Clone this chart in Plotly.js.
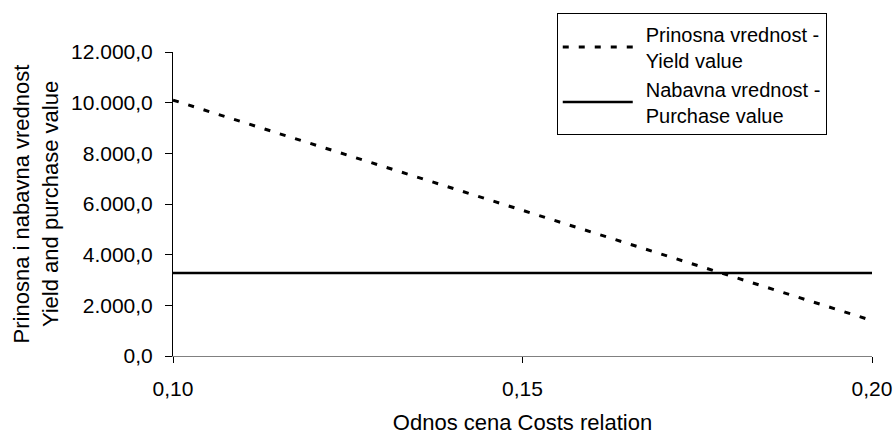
<!DOCTYPE html>
<html>
<head>
<meta charset="utf-8">
<script src="https://cdn.plot.ly/plotly-3.0.1.min.js"></script>
<style>html,body{margin:0;padding:0;background:#fff;}#chart{width:896px;height:435px;}</style>
</head>
<body>
<div id="chart"></div>
<script>
// Data
const costsRelation = [0.10, 0.15, 0.20];
const yieldValue = [10100, 5750, 1400];
const purchaseX = [0.10, 0.20];
const purchaseValue = [3280, 3280];
const seriesNames = ["Prinosna vrednost -<br>Yield value", "Nabavna vrednost -<br>Purchase value"];
const xTitle = "Odnos cena Costs relation";
const yTitle = "Prinosna i nabavna vrednost<br>Yield and purchase value";

const FONT = "Arial, 'Liberation Sans', sans-serif";
const FS = 22;
const TFS = 21;

const traces = [
  {x: costsRelation, y: yieldValue, name: seriesNames[0], type: "scatter", mode: "lines",
   line: {color: "#000", width: 3, dash: "6px,10px"}},
  {x: purchaseX, y: purchaseValue, name: seriesNames[1], type: "scatter", mode: "lines",
   line: {color: "#000", width: 2.5}}
];

const layout = {
  width: 896, height: 435,
  margin: {l: 173, r: 24, t: 52, b: 79, pad: 0},
  paper_bgcolor: "#fff", plot_bgcolor: "#fff",
  separators: ",.",
  font: {family: FONT, size: TFS, color: "#000"},
  showlegend: true,
  legend: {x: 0.549, y: 1.127, xanchor: "left", yanchor: "top",
    bordercolor: "#000", borderwidth: 1, bgcolor: "#fff",
    font: {family: FONT, size: 20, color: "#000"}, itemwidth: 78, tracegroupgap: 0},
  xaxis: {range: [0.10, 0.20], dtick: 0.05, tick0: 0.10, tickformat: ".2f",
    showgrid: false, zeroline: false, showline: true, linecolor: "#808080", linewidth: 1,
    ticks: "outside", ticklen: 6, tickcolor: "#000", tickwidth: 1, ticklabelstandoff: 8,
    tickfont: {family: FONT, size: TFS},
    title: {text: xTitle, font: {family: FONT, size: FS}, standoff: 20}},
  yaxis: {range: [0, 12000], dtick: 2000, tickformat: ",.1f",
    showgrid: false, zeroline: false, showline: true, linecolor: "#000", linewidth: 1,
    ticks: "outside", ticklen: 7, tickcolor: "#000", tickwidth: 1, ticklabelstandoff: 8,
    tickfont: {family: FONT, size: TFS},
    title: {text: yTitle, font: {family: FONT, size: FS}, standoff: 6}}
};

Plotly.newPlot("chart", traces, layout, {staticPlot: true}).then(function(){
  document.querySelectorAll(".legend .legendlines path").forEach(function(p){
    p.setAttribute("d", "M5,0h70");
  });
});
</script>
</body>
</html>
